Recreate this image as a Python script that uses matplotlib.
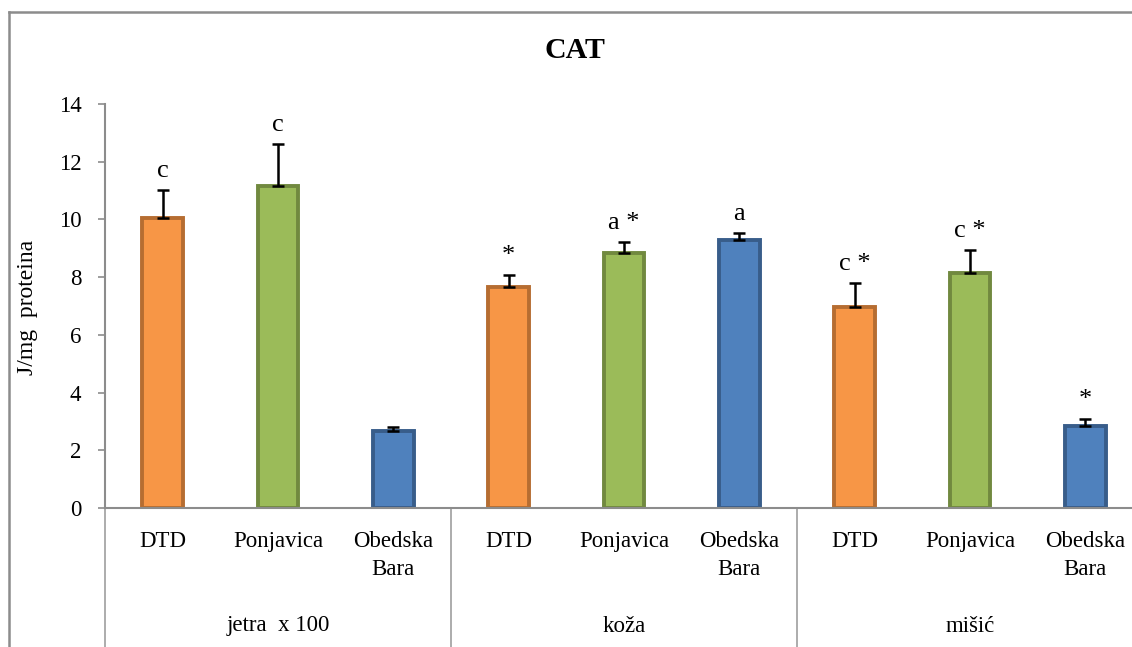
import numpy as np
import matplotlib
matplotlib.use('Agg')
import matplotlib.pyplot as plt
from matplotlib.lines import Line2D
from matplotlib.transforms import blended_transform_factory

plt.rcParams['font.family'] = ['Liberation Serif', 'DejaVu Serif']

# 数据
groups = ['jetra  x 100', 'koža', 'mišić']
sites = ['DTD', 'Ponjavica', 'Obedska\nBara']
values = [10.05, 11.15, 2.67, 7.65, 8.83, 9.28, 6.96, 8.14, 2.84]
errors = [0.97, 1.45, 0.12, 0.42, 0.38, 0.25, 0.84, 0.80, 0.24]
marks = ['c', 'c', '', '*', 'a *', 'a', 'c *', 'c *', '*']
yticks = [0, 2, 4, 6, 8, 10, 12, 14]

fills = ['#F79646', '#9BBB59', '#4F81BD']
edges = ['#B66D31', '#71893F', '#385D8A']
axis_gray = '#8C8C8C'

W, H = 1132, 647
fig = plt.figure(figsize=(W / 100, H / 100), dpi=100)
ax = fig.add_axes([105 / W, 139 / H, 1038 / W, 404 / H])

x = np.arange(len(values))
n = len(sites)
ax.bar(x, values, width=0.35,
       color=[fills[i % n] for i in x],
       edgecolor=[edges[i % n] for i in x], linewidth=2.8, zorder=2)
ax.errorbar(x, values, yerr=[np.zeros(len(values)), errors], fmt='none',
            ecolor='black', elinewidth=1.8, capsize=4.5, capthick=1.8, zorder=3)

# 显著性标记
for xi, v, e, m in zip(x, values, errors, marks):
    if m:
        ax.annotate(m, (xi, v + e), xytext=(0, 6), textcoords='offset points',
                    ha='center', va='bottom', fontsize=19)

ax.set_xlim(-0.5, len(values) - 0.5)
ax.set_ylim(0, 14)
ax.set_yticks(yticks)
ax.tick_params(axis='y', direction='out', length=5, width=1.2, color=axis_gray,
               labelsize=16.5, pad=12)
ax.set_xticks([])
for s in ['top', 'right']:
    ax.spines[s].set_visible(False)
for s in ['left', 'bottom']:
    ax.spines[s].set_color(axis_gray)
    ax.spines[s].set_linewidth(1.5)

# 多级分类轴
tr = blended_transform_factory(ax.transData, fig.transFigure)
for i, xi in enumerate(x):
    ax.text(xi, 1 - 531 / H, sites[i % n], transform=tr, ha='center', va='top',
            fontsize=16.5, linespacing=1.45)
for g, name in enumerate(groups):
    ax.text(g * n + (n - 1) / 2, 1 - 626 / H, name, transform=tr,
            ha='center', va='center', fontsize=16.5)
for b in np.arange(len(groups) + 1) * n - 0.5:
    ax.add_line(Line2D([b, b], [0, 139 / H], transform=tr, color='#A6A6A6',
                       lw=1.3, clip_on=False))

fig.text(28 / W, 1 - 307 / H, 'J/mg  proteina', rotation=90, ha='center',
         va='center', fontsize=17)
fig.text(575 / W, 1 - 50 / H, 'CAT', ha='center', va='center', fontsize=21.5,
         fontweight='bold')

# 图表外框
fig.add_artist(Line2D([9 / W, 9 / W], [0, 1 - 12 / H], transform=fig.transFigure,
                      color='#8C8C8C', lw=1.8))
fig.add_artist(Line2D([9 / W, 1], [1 - 12 / H, 1 - 12 / H], transform=fig.transFigure,
                      color='#8C8C8C', lw=1.8))

fig.savefig('out.png', dpi=100)
